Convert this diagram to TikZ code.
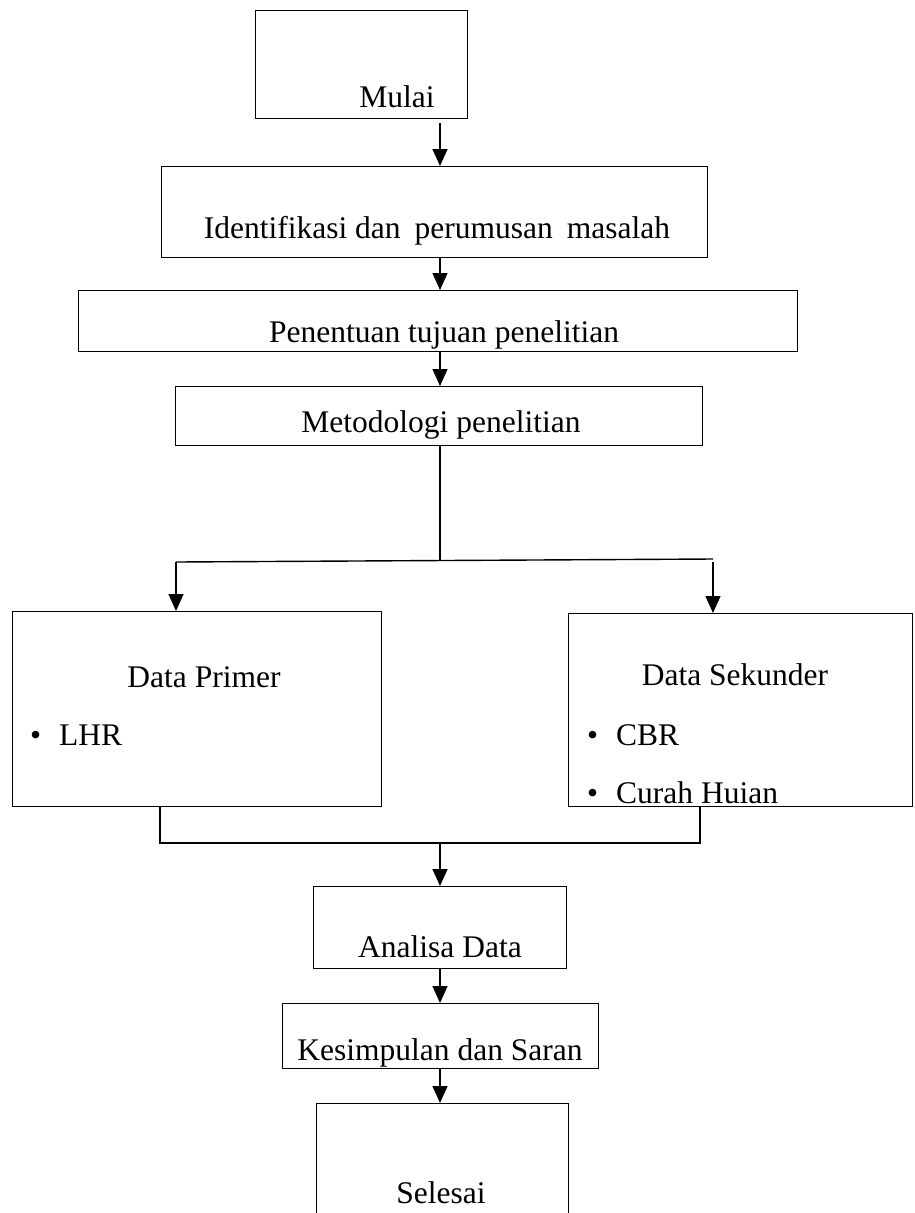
\documentclass[tikz,border=0pt]{standalone}
\usepackage{fontspec}
\setmainfont{Liberation Serif}
\usetikzlibrary{positioning, arrows.meta, calc}

\begin{document}
\begin{tikzpicture}[x=1pt, y=-1pt,
  box/.style={draw, line width=1.4pt, inner sep=0pt, anchor=north west},
  txt/.style={inner sep=0pt, anchor=base, font=\fontsize{31.5}{38}\selectfont},
  item/.style={inner sep=0pt, anchor=base west, font=\fontsize{31.5}{38}\selectfont},
  arr/.style={-{Triangle[length=17pt, width=15pt]}, line width=1.4pt},
  ln/.style={line width=1.4pt},
]
\useasboundingbox (0,0) rectangle (914,1213);

% === Boxes ===
\node[box, minimum width=212pt, minimum height=108pt] (mulai) at (255,10) {};
\node[box, minimum width=546pt, minimum height=91pt] (ident) at (161,166) {};
\node[box, minimum width=719pt, minimum height=61pt] (tujuan) at (78,290) {};
\node[box, minimum width=527pt, minimum height=59pt] (metode) at (175,386) {};
\node[box, minimum width=369pt, minimum height=195pt] (primer) at (12,611) {};
\node[box, minimum width=344pt, minimum height=193pt] (sekunder) at (568,613) {};
\node[box, minimum width=253pt, minimum height=82pt] (analisa) at (313,886) {};
\node[box, minimum width=316pt, minimum height=65pt] (simpul) at (282,1003) {};
\node[box, minimum width=252pt, minimum height=127pt] (selesai) at (316,1103) {};

% === Texts ===
\node[txt] (tmulai) at (397,107) {Mulai};
\node[txt] (tident) at (437,238) {Identifikasi dan\hspace{14pt}perumusan\hspace{14pt}masalah};
\node[txt] (ttujuan) at (444,342) {Penentuan tujuan penelitian};
\node[txt] (tmetode) at (441,432) {Metodologi penelitian};
\node[txt] (tprimer) at (204,687) {Data Primer};
\node[item] (lhr) at (30,745) {\textbullet\hspace{18pt}LHR};
\node[txt] (tsekunder) at (735,685) {Data Sekunder};
\node[item] (cbr) at (587,745) {\textbullet\hspace{18pt}CBR};
\node[item] (hujan) at (587,803) {\textbullet\hspace{18pt}Curah Huian};
\node[txt] (tanalisa) at (440,957) {Analisa Data};
\node[txt] (tsimpul) at (440,1060) {Kesimpulan dan Saran};
\node[txt] (tselesai) at (441,1203) {Selesai};

% === Connector points ===
\coordinate (axis) at (440,0);
\coordinate (split) at (440,561);
\coordinate (brL) at (176,562);
\coordinate (brR) at (713,559);
\coordinate (jL) at (160,843);
\coordinate (jR) at (700,843);

% === Arrows ===
\draw[arr] ([yshift=-4pt]mulai.south -| axis) -- (ident.north -| axis);
\draw[arr] (ident.south -| axis) -- (tujuan.north -| axis);
\draw[arr] (tujuan.south -| axis) -- (metode.north -| axis);
\draw[ln] (metode.south -| axis) -- (split);
\draw[ln] (brL) -- (brR);
\draw[arr] (brL) -- (primer.north -| brL);
\draw[arr] ([yshift=-3pt]brR) -- (sekunder.north -| brR);
\draw[ln] (primer.south -| jL) -- (jL) -- (jR) -- (sekunder.south -| jR);
\draw[arr] (jL -| axis) -- (analisa.north -| axis);
\draw[arr] (analisa.south -| axis) -- (simpul.north -| axis);
\draw[arr] (simpul.south -| axis) -- (selesai.north -| axis);

\end{tikzpicture}
\end{document}
